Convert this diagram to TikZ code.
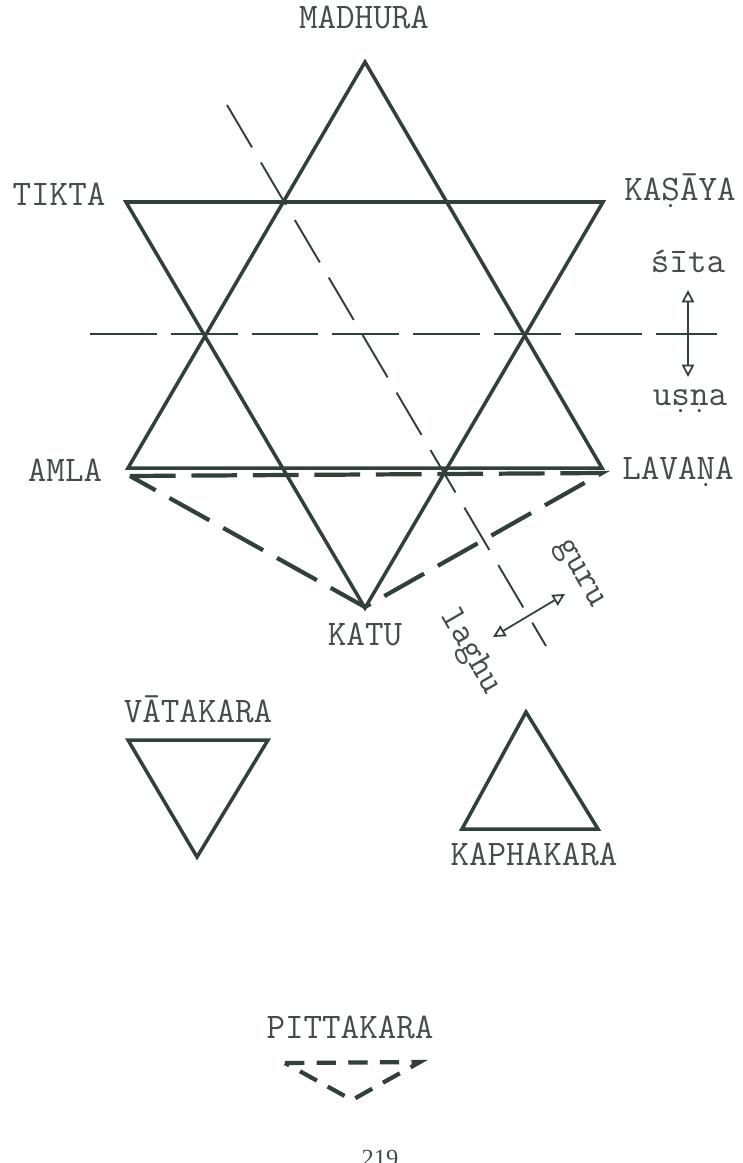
\documentclass[tikz,border=0pt]{standalone}
\usepackage{fontspec}
\usepackage{xcolor}
\usepackage{tikz}
\usetikzlibrary{positioning,arrows.meta}
\newfontfamily\pagefont{Liberation Serif}
\definecolor{inkline}{RGB}{50,64,58}
\definecolor{inktext}{RGB}{70,76,74}

\begin{document}
\begin{tikzpicture}[
 x=0.02cm, y=-0.02cm,
 tag/.style={font=\ttfamily\fontsize{20.5}{20.5}\selectfont, text=inktext, inner sep=0pt, anchor=base},
 solidtri/.style={draw=inkline, line width=2pt, line join=miter},
 dashtri/.style={draw=inkline, line width=2.4pt, dash pattern=on 26pt off 9pt},
 smalldash/.style={draw=inkline, line width=2.4pt, dash pattern=on 11pt off 7pt},
 axisline/.style={draw=inkline, line width=1.1pt, dash pattern=on 38pt off 8pt},
 diagline/.style={draw=inkline, line width=1.1pt, dash pattern=on 28pt off 10pt},
 dblarrow/.style={draw=inkline, line width=1pt, {Triangle[open,length=7pt,width=7pt]}-{Triangle[open,length=7pt,width=7pt]}}
 ]
 \useasboundingbox (0,0) rectangle (743,1163);
 \clip (0,0) rectangle (743,1163);
 % Corners of the star
 \coordinate (apex) at (365,62);
 \coordinate (amlac) at (128,468);
 \coordinate (lavanac) at (602,468);
 \coordinate (tiktac) at (126,202);
 \coordinate (kasayac) at (603,202);
 \coordinate (katuc) at (365,608);
 % Labels
 \node[tag] (madhura) at (364,28) {MADHURA};
 \node[tag] (tikta) at (59,205) {TIKTA};
 \node[tag] (kasaya) at (680,200) {KAṢĀYA};
 \node[tag] (amla) at (65,481) {AMLA};
 \node[tag] (lavana) at (678,479) {LAVAṆA};
 \node[tag] (katu) at (365,645) {KATU};
 \node[tag] (sita) at (688,272) {śīta};
 \node[tag] (usna) at (690,405) {uṣṇa};
 \node[tag, anchor=center, rotate=-60] (guru) at (578,575) {guru};
 \node[tag, anchor=center, rotate=-60] (laghu) at (470,652) {laghu};
 % Star
 \draw[solidtri] (apex) -- (amlac) -- (lavanac) -- cycle;
 \draw[solidtri] (tiktac) -- (kasayac) -- (katuc) -- cycle;
 % Dashed triangle under the base
 \coordinate (amlad) at (130,476);
 \coordinate (lavanad) at (602,473);
 \coordinate (katud) at (365,607);
 \draw[dashtri] (amlad) -- (lavanad) -- (katud) -- cycle;
 % Axes
 \coordinate (hleft) at (90,334);
 \coordinate (hright) at (717,334);
 \draw[axisline] (hleft) -- (hright);
 \coordinate (dtop) at (227,105);
 \coordinate (dbot) at (546,646);
 \draw[diagline] (dtop) -- (dbot);
 \coordinate (sitatop) at (688,290);
 \coordinate (usnabot) at (688,377);
 \draw[dblarrow] (sitatop) -- (usnabot);
 \coordinate (laghuend) at (493,637);
 \coordinate (guruend) at (565,594);
 \draw[dblarrow] (laghuend) -- (guruend);
 % Small triangles
 \node[tag] (vatakara) at (198,722) {VĀTAKARA};
 \coordinate (va) at (128,740);
 \coordinate (vb) at (268,740);
 \coordinate (vc) at (197,857);
 \draw[solidtri] (va) -- (vb) -- (vc) -- cycle;
 \coordinate (ka) at (526,712);
 \coordinate (kb) at (462,829);
 \coordinate (kc) at (598,829);
 \draw[solidtri] (ka) -- (kb) -- (kc) -- cycle;
 \node[tag] (kaphakara) at (534,865) {KAPHAKARA};
 \node[tag] (pittakara) at (350,1038) {PITTAKARA};
 \coordinate (pa) at (285,1063);
 \coordinate (pb) at (420,1062);
 \coordinate (pc) at (352,1100);
 \draw[smalldash] (pa) -- (pb) -- (pc) -- cycle;
 % Page number
 \node[font=\pagefont\fontsize{14}{14}\selectfont, text=inktext, inner sep=0pt, anchor=base] (pagenum) at (380,1166) {219};
\end{tikzpicture}
\end{document}
